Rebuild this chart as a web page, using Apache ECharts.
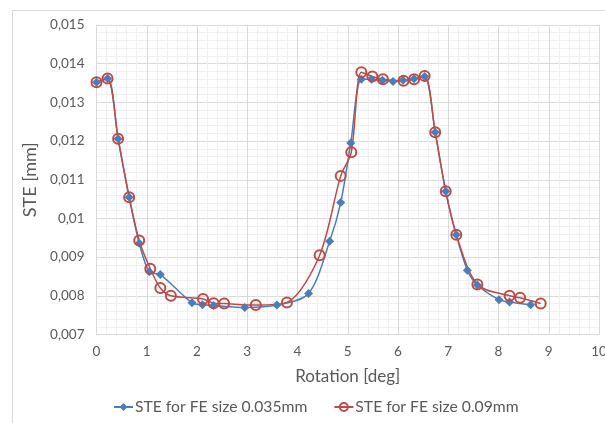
<!DOCTYPE html>
<html><head><meta charset="utf-8">
<script src="https://cdn.jsdelivr.net/npm/echarts@6/dist/echarts.min.js"></script>
<style>html,body{margin:0;padding:0;background:#fff}#c{width:605px;height:423px}</style>
</head><body><div id="c"></div>
<script>
var seriesNames = ['STE for FE size 0.035mm', 'STE for FE size 0.09mm'];
var blueX = [0, 0.22, 0.43, 0.65, 0.85, 1.05, 1.27, 1.9, 2.11, 2.33, 2.95, 3.59, 4.22, 4.64, 4.86, 5.06, 5.27, 5.47, 5.69, 5.9, 6.1, 6.32, 6.53, 6.74, 6.95, 7.16, 7.38, 7.58, 8.01, 8.22, 8.64];
var blueY = [0.01352, 0.01362, 0.01206, 0.01055, 0.00936, 0.00862, 0.00855, 0.00782, 0.00777, 0.00775, 0.0077, 0.00776, 0.00806, 0.00941, 0.01041, 0.01195, 0.0136, 0.0136, 0.01357, 0.01354, 0.01357, 0.01361, 0.01367, 0.01223, 0.0107, 0.00958, 0.00866, 0.00828, 0.0079, 0.00784, 0.00777];
var redX = [0, 0.22, 0.43, 0.65, 0.85, 1.07, 1.27, 1.48, 2.12, 2.33, 2.54, 3.17, 3.79, 4.44, 4.86, 5.07, 5.27, 5.49, 5.7, 6.11, 6.32, 6.53, 6.74, 6.95, 7.16, 7.58, 8.22, 8.43, 8.84];
var redY = [0.01352, 0.01362, 0.01206, 0.01055, 0.00943, 0.0087, 0.0082, 0.008, 0.00792, 0.00781, 0.0078, 0.00776, 0.00783, 0.00905, 0.0111, 0.01171, 0.01378, 0.01367, 0.0136, 0.01356, 0.0136, 0.01368, 0.01223, 0.0107, 0.00958, 0.00829, 0.008, 0.00795, 0.0078];
var xTicks = [0, 1, 2, 3, 4, 5, 6, 7, 8, 9, 10];
var yTicks = ['0,007', '0,008', '0,009', '0,01', '0,011', '0,012', '0,013', '0,014', '0,015'];

function pairs(xs, ys) { return xs.map(function (x, i) { return [x, ys[i]]; }); }
var txt = '#595959';
var font = 'Lato, "Open Sans", sans-serif';
var chart = echarts.init(document.getElementById('c'), null, {renderer: 'canvas'});
chart.setOption({
  animation: false,
  backgroundColor: '#fff',
  graphic: [{type: 'rect', shape: {x: 12.5, y: 10.5, width: 620, height: 440}, style: {fill: 'none', stroke: '#D9D9D9', lineWidth: 1}, silent: true}],
  grid: {left: 96.5, right: 6, top: 25, bottom: 88.5, containLabel: false, outerBoundsMode: 'none'},
  xAxis: {
    type: 'value', min: xTicks[0], max: xTicks[xTicks.length - 1], interval: 1,
    name: 'Rotation [deg]', nameLocation: 'middle', nameGap: 34,
    nameTextStyle: {color: txt, fontSize: 17, fontFamily: font},
    axisLine: {show: true, lineStyle: {color: '#D9D9D9'}},
    axisTick: {show: false},
    minorTick: {show: false, splitNumber: 5},
    axisLabel: {color: txt, fontSize: 13.5, fontFamily: font, margin: 10, formatter: function (v) { return String(xTicks[Math.round(v)]); }},
    splitLine: {show: true, lineStyle: {color: '#D9D9D9'}},
    minorSplitLine: {show: true, lineStyle: {color: '#F0F0F0'}}
  },
  yAxis: {
    type: 'value', min: 0.007, max: 0.015, interval: 0.001,
    name: 'STE [mm]', nameLocation: 'middle', nameGap: 54, nameRotate: 90,
    nameTextStyle: {color: txt, fontSize: 18, fontFamily: font},
    axisLine: {show: false}, axisTick: {show: false},
    minorTick: {show: false, splitNumber: 5},
    axisLabel: {color: txt, fontSize: 13.5, fontFamily: font, margin: 12, formatter: function (v) { return yTicks[Math.round((v - 0.007) / 0.001)]; }},
    splitLine: {show: true, lineStyle: {color: '#D9D9D9'}},
    minorSplitLine: {show: true, lineStyle: {color: '#F0F0F0'}}
  },
  legend: {
    bottom: 3, left: 108, itemGap: 26, itemWidth: 19, itemHeight: 10,
    textStyle: {color: txt, fontSize: 15.7, fontFamily: font, padding: [0, 0, 0, -3]},
    data: seriesNames
  },
  series: [{
    name: seriesNames[0], type: 'line', data: pairs(blueX, blueY), smooth: 0.3,
    symbol: 'diamond', symbolSize: 9,
    lineStyle: {color: '#4A7EBB', width: 1.5},
    itemStyle: {color: '#4A7EBB', borderColor: '#4A7EBB', borderWidth: 0}
  }, {
    name: seriesNames[1], type: 'line', data: pairs(redX, redY), smooth: 0.3,
    symbol: 'circle', symbolSize: 10,
    lineStyle: {color: '#BE4B48', width: 1.5},
    itemStyle: {color: 'rgba(255,255,255,0)', borderColor: '#BE4B48', borderWidth: 2}
  }]
});
</script></body></html>
